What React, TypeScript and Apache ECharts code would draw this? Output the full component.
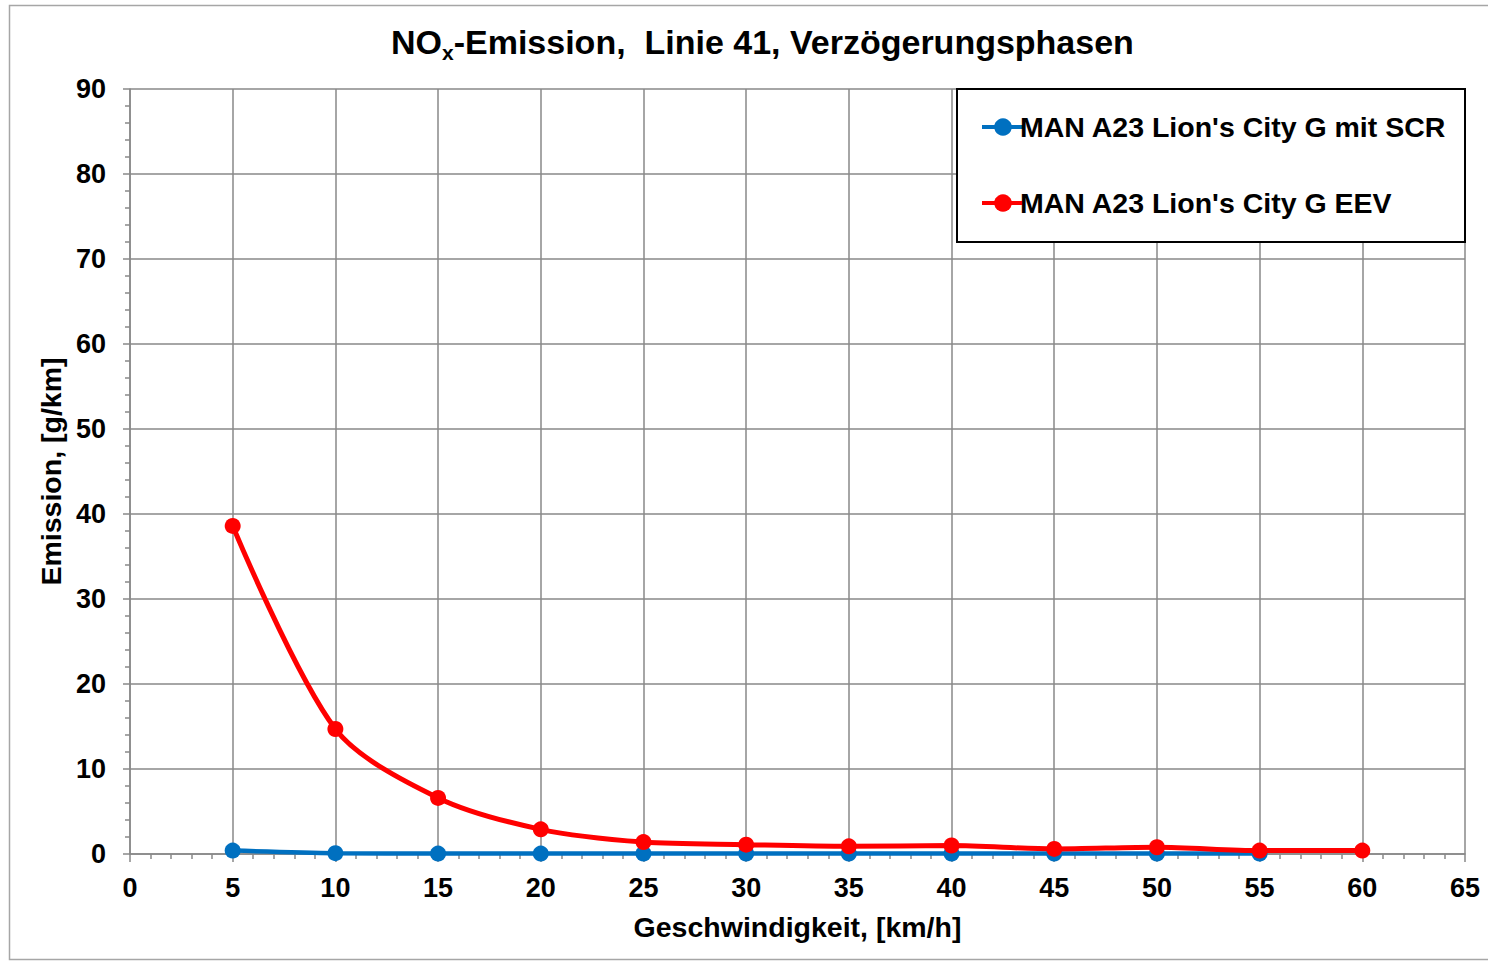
import React, { useEffect, useRef } from "react";
import * as echarts from "echarts";

const speeds = [5, 10, 15, 20, 25, 30, 35, 40, 45, 50, 55, 60];
const scrValues = [0.4, 0.1, 0.05, 0.05, 0.05, 0.05, 0.05, 0.05, 0.05, 0.05, 0.05];
const eevValues = [38.6, 14.7, 6.6, 2.9, 1.4, 1.1, 0.9, 1.0, 0.6, 0.8, 0.4, 0.4];
const seriesNames = ["MAN A23 Lion's City G mit SCR", "MAN A23 Lion's City G EEV"];

const FONT = "'Liberation Sans', Arial, sans-serif";

export default function App() {
  const ref = useRef<HTMLDivElement>(null);
  useEffect(() => {
    document.body.style.margin = "0";
    const chart = echarts.init(ref.current!, null, { renderer: "svg" });
    const scrData = scrValues.map((v, i) => [speeds[i], v]);
    const eevData = eevValues.map((v, i) => [speeds[i], v]);
    chart.setOption({
      animation: false,
      backgroundColor: "#fff",
      textStyle: { fontFamily: FONT },
      title: {
        text: "NO{sub|x}-Emission,  Linie 41, Verzögerungsphasen",
        left: 386,
        top: 15,
        textStyle: {
          fontFamily: FONT,
          fontSize: 34,
          fontWeight: "bold",
          color: "#000",
          rich: {
            sub: {
              fontFamily: FONT,
              fontSize: 21,
              fontWeight: "bold",
              color: "#000",
              verticalAlign: "bottom",
              padding: [22, 0, 0, 0],
            },
          },
        },
      },
      graphic: [
        {
          type: "rect",
          shape: { x: 9.5, y: 5.5, width: 1500, height: 954 },
          style: { fill: "none", stroke: "#a6a6a6", lineWidth: 1.5 },
          silent: true,
          z: -10,
        },
        {
          type: "rect",
          shape: { x: 957, y: 89, width: 508, height: 153 },
          style: { fill: "#fff", stroke: "#000", lineWidth: 2 },
          z: 50,
        },
      ],
      legend: {
        left: 975,
        top: 106,
        orient: "vertical",
        itemWidth: 42,
        itemHeight: 22,
        itemGap: 44,
        z: 60,
        lineStyle: { width: 4 },
        textStyle: {
          fontFamily: FONT,
          fontSize: 28.5,
          fontWeight: "bold",
          color: "#000",
          lineHeight: 32,
          padding: [0, 0, 0, -9],
        },
        data: seriesNames,
      },
      grid: { left: 130, right: 23, top: 89, bottom: 109, containLabel: false },
      xAxis: {
        type: "value",
        min: 0,
        max: 65,
        interval: 5,
        name: "Geschwindigkeit, [km/h]",
        nameLocation: "middle",
        nameGap: 58,
        nameTextStyle: { fontFamily: FONT, fontSize: 28.5, fontWeight: "bold", color: "#000" },
        axisLine: { show: true, onZero: false, lineStyle: { color: "#888", width: 1.5 } },
        axisTick: { show: true, length: 8, lineStyle: { color: "#888", width: 1.5 } },
        minorTick: { show: true, splitNumber: 5, length: 5, lineStyle: { color: "#888", width: 1.5 } },
        axisLabel: { margin: 20, fontFamily: FONT, fontSize: 27, fontWeight: "bold", color: "#000" },
        splitLine: { show: true, lineStyle: { color: "#888", width: 1.5 } },
      },
      yAxis: {
        type: "value",
        min: 0,
        max: 90,
        interval: 10,
        name: "Emission, [g/km]",
        nameLocation: "middle",
        nameGap: 64,
        nameRotate: 90,
        nameTextStyle: { fontFamily: FONT, fontSize: 28.5, fontWeight: "bold", color: "#000" },
        axisLine: { show: true, lineStyle: { color: "#888", width: 1.5 } },
        axisTick: { show: true, length: 7, lineStyle: { color: "#888", width: 1.5 } },
        minorTick: { show: true, splitNumber: 5, length: 5, lineStyle: { color: "#888", width: 1.5 } },
        axisLabel: { margin: 24, fontFamily: FONT, fontSize: 27, fontWeight: "bold", color: "#000" },
        splitLine: { show: true, lineStyle: { color: "#888", width: 1.5 } },
      },
      series: [
        {
          name: seriesNames[0],
          type: "line",
          data: scrData,
          smooth: 0.3,
          symbol: "circle",
          symbolSize: 16,
          itemStyle: { color: "#0070c0" },
          lineStyle: { color: "#0070c0", width: 4.5 },
          z: 3,
        },
        {
          name: seriesNames[1],
          type: "line",
          data: eevData,
          smooth: 0.3,
          symbol: "circle",
          symbolSize: 16,
          itemStyle: { color: "#ff0000" },
          lineStyle: { color: "#ff0000", width: 5 },
          z: 4,
        },
      ],
    });
    return () => chart.dispose();
  }, []);
  return <div ref={ref} style={{ width: 1488, height: 963 }} />;
}
